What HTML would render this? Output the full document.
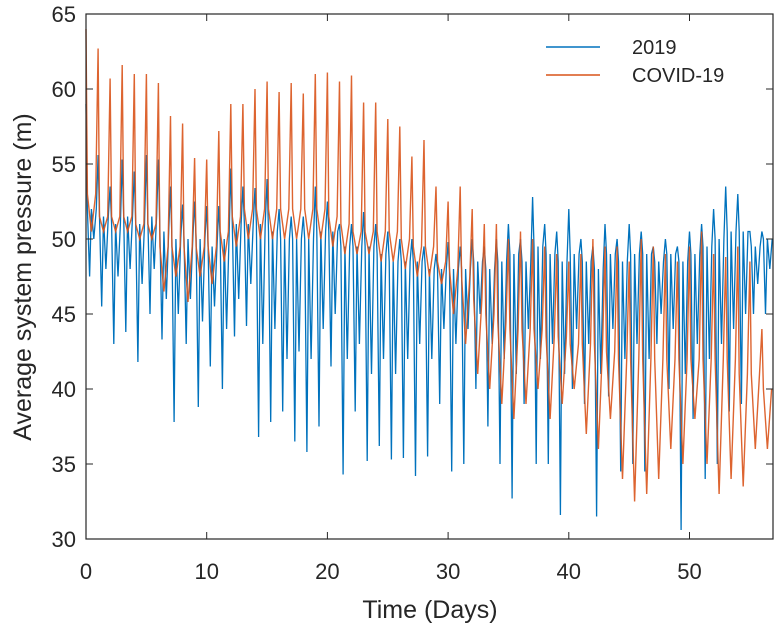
<!DOCTYPE html>
<html><head><meta charset="utf-8">
<style>
html,body{margin:0;padding:0;background:#fff;}
svg{display:block;font-family:"Liberation Sans",sans-serif;}
</style></head>
<body>
<svg id="chart" width="778" height="635" viewBox="0 0 778 635" xmlns="http://www.w3.org/2000/svg">
<rect x="0" y="0" width="778" height="635" fill="#fff"/>
<g id="series"></g>
<rect x="86" y="14" width="687" height="525" fill="none" stroke="#262626" stroke-width="1.2"/>
<g id="ticks"></g>
<text x="430" y="618" font-size="25" fill="#262626" text-anchor="middle">Time (Days)</text>
<text transform="translate(31,277) rotate(-90)" font-size="25" fill="#262626" text-anchor="middle">Average system pressure (m)</text>
<g>
<line x1="546" y1="47" x2="600" y2="47" stroke="#0072BD" stroke-width="1.5"/>
<text x="632" y="54" font-size="20" fill="#262626">2019</text>
<line x1="546" y1="75" x2="600" y2="75" stroke="#D95319" stroke-width="1.5"/>
<text x="632" y="82" font-size="20" fill="#262626">COVID-19</text>
</g>
</svg>
<script>
const xTicks=[0,10,20,30,40,50];
const yTicks=[30,35,40,45,50,55,60,65];
const high2019=[59,55.6,53.5,55.3,54.5,55.6,55.3,53.5,52.3,52.5,52.2,52.2,54.7,53.5,53.4,54,52,51.5,51.5,53.5,52.5,51,51,51.8,51,50.5,50,50,49.5,49,49.8,49.5,50,49.5,50,51,50,52.8,51,50.5,52,50,49.5,51,50,51,50.5,49.5,50,49.5,50.5,51,52,53.5,53,50.5,50.5];
const low2019=[47.5,45.5,43,43.8,41.8,45,43.3,37.8,43,38.8,41.5,40,43.5,44.2,36.8,37.8,38.5,36.5,35.8,37.5,41.5,34.3,38.5,35.2,36.2,35.3,35.4,34.2,35.5,39,34.5,35,40,37.5,35,32.7,39,35,35,31.6,40,39,31.5,39.5,34.5,35,34.5,43,40,30.6,38,34,35,38.5,39,45,45];
const dip2019=[50,48,47.5,48,47,48,46,45,46,44.5,45.5,44,46,47,43,44,42,42.5,42,44,45,42,43,41,42,41,42,43,42,44,43,44,45,43,42,41,44,42,43,41,44,43,41,44,42,43,42,45,44,41,43,42,43,44,45,47,48];
const base2019=[52,51.5,51,51.5,51,51.5,50.5,50,50,50,49.5,50,51,51,51,50.5,50,50,50,50.5,50.5,49.5,49.5,49.5,49,48.5,48.5,48.5,48,48,48,48,48.5,48,48.5,49,48.5,49.5,49,48.5,49,48.5,48,49,48.5,49,49,48.5,49,48.5,49,49.5,50,50.5,50.5,49.5,50];
const peakCovid=[64,62.7,60.7,61.6,61,61,60.4,58.2,57.7,55.4,55.3,57.2,59,59,60,60.5,59.8,60.4,59.7,61,61.1,60.5,60.9,59.1,59.1,58,57.5,55.5,56.6,53.5,52.5,53.5,52,51,51,50,50.5,50,49.5,49,48.5,49,50,49.5,49.5,48.5,50,49.5,49,48.5,49.5,50.5,49,48.8,49.5,48.5,44];
const baseCovid=[53,51.5,51.5,51.5,51,51,49.5,49.5,49.5,49.5,49.5,50.5,51.5,52,52,52,52,52,52,52,51.5,51,50.5,50.5,50.5,50.5,50,49.5,49.5,48.5,48,47.5,46,45,44.5,44,44,44,43.5,43.5,43,43,43,42.5,42,42,42,42,42,42,42,42,42,42,41,41,40];
const lowCovid=[50.5,50.5,50.5,50.5,50,50,46.5,47.5,45.8,47.5,47,48.5,49.5,50,50,50,50,50,50,50,49.5,49,49,49,48.5,48.5,48,47.5,47.5,47,45,43,41,40,39,38,39,40,38,39,40,37,36,38,34,32.5,33,34,36,35,38,35,33,34,33.5,36,36];
const X0=86,X1=773,XMAX=(773-86)/12.07,Y0=539,Y1=14,YMIN=30,YMAX=65;
const sx=d=>X0+(d/XMAX)*(X1-X0);
const sy=v=>Y0-(v-YMIN)/(YMAX-YMIN)*(Y0-Y1);
const NS="http://www.w3.org/2000/svg";
const ticks=document.getElementById('ticks');
xTicks.forEach(t=>{
 const l=document.createElementNS(NS,'line');
 
 
 l.setAttribute('x1',sx(t));l.setAttribute('x2',sx(t));l.setAttribute('y1',Y0);l.setAttribute('y2',Y0-7);l.setAttribute('stroke','#262626');
 ticks.appendChild(l);
 const l2=l.cloneNode();l2.setAttribute('y1',Y1);l2.setAttribute('y2',Y1+7);ticks.appendChild(l2);
 const tx=document.createElementNS(NS,'text');
 
 
 tx.setAttribute('x',sx(t));tx.setAttribute('y',579);tx.setAttribute('font-size','22');tx.setAttribute('fill','#262626');tx.setAttribute('text-anchor','middle');
 tx.textContent=t;ticks.appendChild(tx);
});
yTicks.forEach(t=>{
 const l=document.createElementNS(NS,'line');
 
 
 l.setAttribute('x1',X0);l.setAttribute('x2',X0+7);l.setAttribute('y1',sy(t));l.setAttribute('y2',sy(t));l.setAttribute('stroke','#262626');
 ticks.appendChild(l);
 const l2=l.cloneNode();l2.setAttribute('x1',X1);l2.setAttribute('x2',X1-7);ticks.appendChild(l2);
 const tx=document.createElementNS(NS,'text');
 
 
 tx.setAttribute('x',76);tx.setAttribute('y',sy(t)+8);tx.setAttribute('font-size','22');tx.setAttribute('fill','#262626');tx.setAttribute('text-anchor','end');
 tx.textContent=t;ticks.appendChild(tx);
});
const g=document.getElementById('series');
function build(days,parts){
 const pts=[];
 for(let d=0;d<days;d++){
  parts.forEach(([f,arr])=>{const t=d+f;if(t<=XMAX)pts.push(sx(t).toFixed(1)+','+sy(arr[d]).toFixed(1));});
 }
 return pts.join(' ');
}
const p19=document.createElementNS(NS,'polyline');


p19.setAttribute('points',build(high2019.length,[[0,high2019],[0.12,base2019],[0.3,low2019],[0.45,base2019],[0.65,dip2019],[0.85,base2019]]));
p19.setAttribute('fill','none');p19.setAttribute('stroke','#0072BD');p19.setAttribute('stroke-width','1.3');
g.appendChild(p19);
const pc=document.createElementNS(NS,'polyline');


pc.setAttribute('points',build(peakCovid.length,[[0,peakCovid],[0.12,baseCovid],[0.45,lowCovid],[0.8,baseCovid]]));
pc.setAttribute('fill','none');pc.setAttribute('stroke','#D95319');pc.setAttribute('stroke-width','1.4');pc.setAttribute('stroke-opacity','0.9');
g.appendChild(pc);
</script>
</body></html>
